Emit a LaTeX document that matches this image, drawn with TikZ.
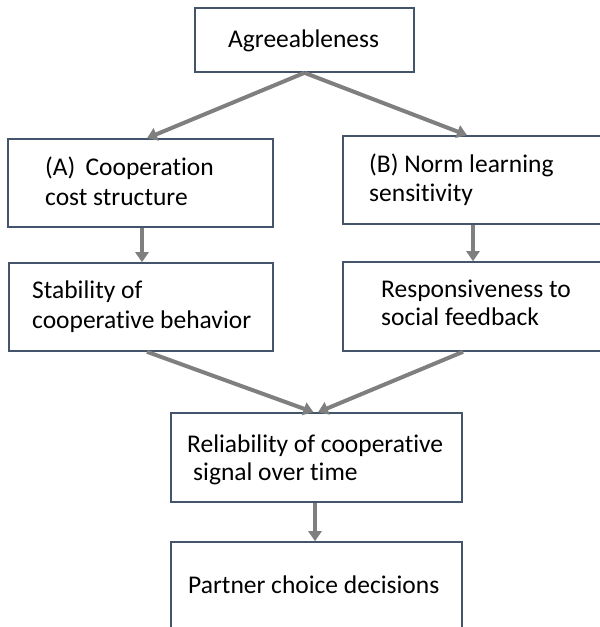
\documentclass[tikz,border=0pt]{standalone}
\usepackage{fontspec}
\setmainfont{Carlito}[Ligatures={NoCommon,NoContextual}]
\usetikzlibrary{arrows.meta}
\definecolor{boxline}{HTML}{44546A}
\definecolor{arrowgray}{HTML}{7F7F7F}
\tikzset{
  box/.style={draw=boxline, line width=1.6pt, fill=white, rectangle, inner sep=0pt},
  txt/.style={anchor=base west, inner sep=0pt, font=\fontsize{25.5}{30}\selectfont, text=black},
  conn/.style={draw=arrowgray, line width=4pt, -{Triangle[length=10pt,width=13pt]}, shorten >=0pt}
}
\begin{document}
\begin{tikzpicture}[x=1pt,y=-1pt]
\useasboundingbox (0,0) rectangle (600,627);
\clip (0,0) rectangle (600,627);
% boxes
\node[box, minimum width=219pt, minimum height=64pt] (agr) at (304.5,40) {};
\node[box, minimum width=265pt, minimum height=88pt] (boxA) at (140.5,183) {};
\node[box, minimum width=267pt, minimum height=88pt] (boxB) at (476.5,180) {};
\node[box, minimum width=264pt, minimum height=88pt] (stab) at (141,307) {};
\node[box, minimum width=267pt, minimum height=89pt] (resp) at (476.5,306.5) {};
\node[box, minimum width=291pt, minimum height=89pt] (rel) at (316.5,457.5) {};
\node[box, minimum width=291pt, minimum height=100pt] (part) at (316.5,592) {};
% texts
\node[txt] (tagr) at (228,47) {Agreeableness};
\node[txt] (tA1) at (45,175) {(A)\hspace{0.4em}Cooperation};
\node[txt] (tA2) at (45,205) {cost structure};
\node[txt] (tB1) at (369,172) {(B) Norm learning};
\node[txt] (tB2) at (369,201) {sensitivity};
\node[txt] (tS1) at (32,298) {Stability of};
\node[txt] (tS2) at (32,328) {cooperative behavior};
\node[txt] (tR1) at (381,297) {Responsiveness to};
\node[txt] (tR2) at (381,325) {social feedback};
\node[txt] (tL1) at (187,452) {Reliability of cooperative};
\node[txt] (tL2) at (193,480) {signal over time};
\node[txt] (tP) at (188,593) {Partner choice decisions};
% connectors
\draw[conn] (agr.south) -- ([xshift=6.5pt]boxA.north);
\draw[conn] (agr.south) -- ([xshift=-9.5pt]boxB.north);
\draw[conn] ([xshift=1.5pt]boxA.south) -- ([xshift=1pt]stab.north);
\draw[conn] ([xshift=-3.5pt]boxB.south) -- ([xshift=-3.5pt]resp.north);
\draw[conn] ([xshift=6pt]stab.south) -- ([xshift=-3pt]rel.north);
\draw[conn] ([xshift=-13.5pt]resp.south) -- ([xshift=1.5pt]rel.north);
\draw[conn] ([xshift=-1.5pt]rel.south) -- ([xshift=-1.5pt]part.north);
\end{tikzpicture}
\end{document}
